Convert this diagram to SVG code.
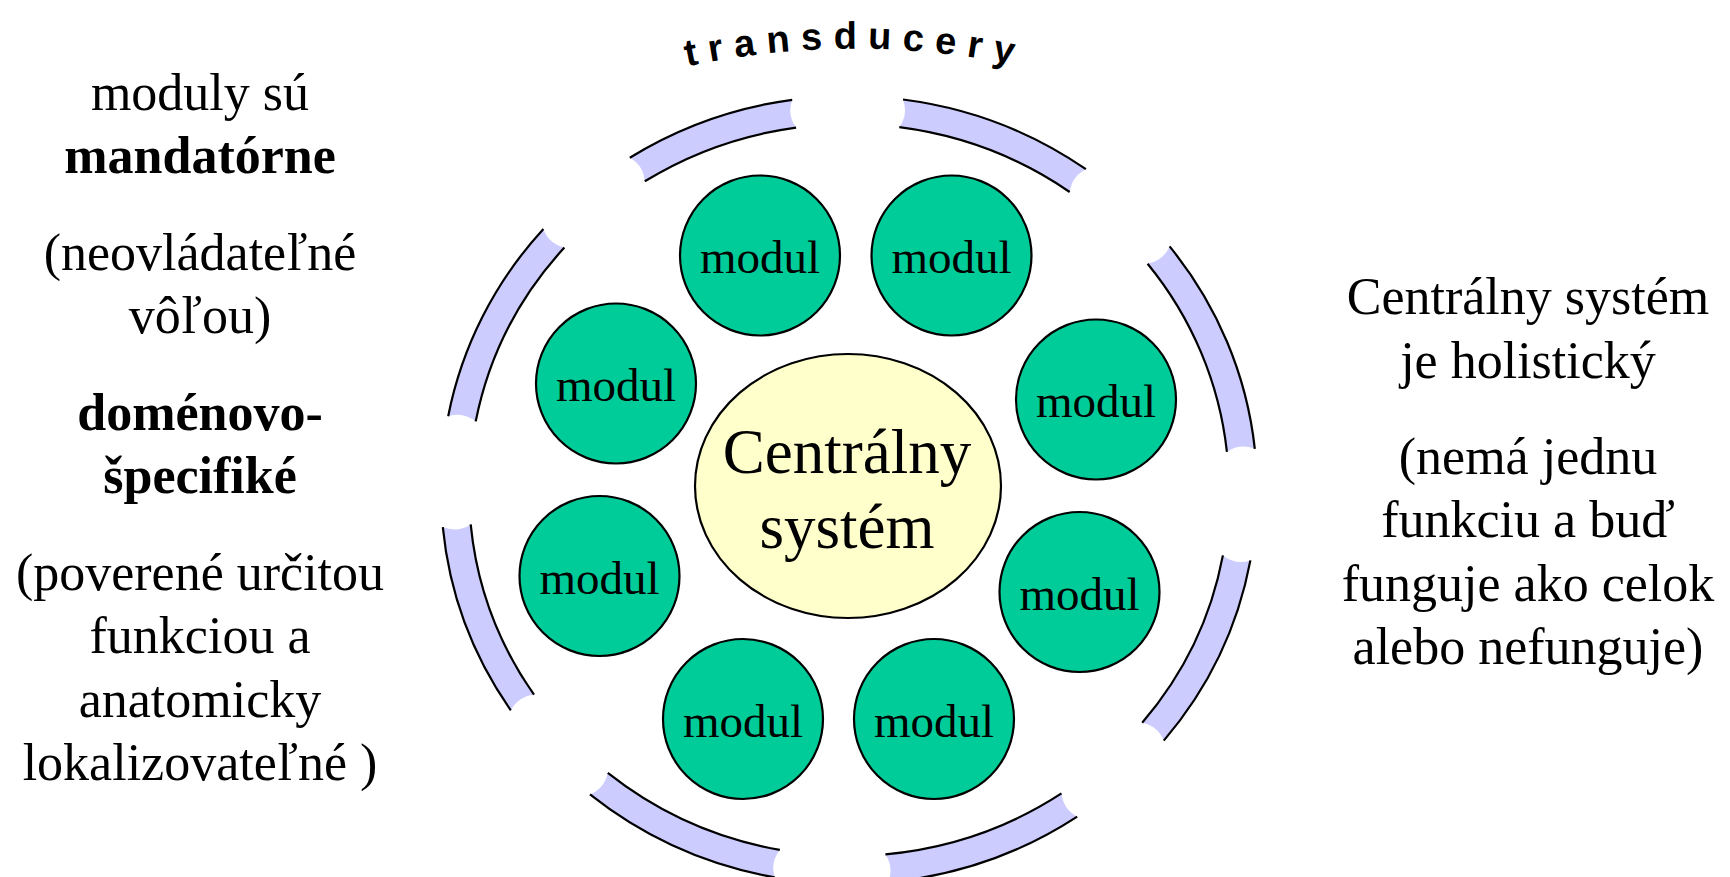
<svg xmlns="http://www.w3.org/2000/svg" width="1730" height="877" viewBox="0 0 1730 877">
<style>
.seg{fill:#CCCCFF;stroke:none}
.edge{fill:none;stroke:#000;stroke-width:2.2}
.mod{fill:#00CC99;stroke:#000;stroke-width:2.2}
.mt{font-family:"Liberation Serif","Times New Roman",serif;font-size:47px;text-anchor:middle;fill:#000}
.side{font-family:"Liberation Serif","Times New Roman",serif;font-size:52px;text-anchor:middle;fill:#000}
.b{font-weight:bold}
</style>
<defs>
<path id="arcText" d="M 600 90.4 A 800 800 0 0 1 1110 90.4" fill="none"/>
</defs>
<rect width="1730" height="877" fill="#fff"/>
<g id="ring">
<path class="seg" d="M629.8 157.7 A408 394 0 0 1 792.2 99.8 A30 30 0 0 0 796.1 127.6 A380 366 0 0 0 644.8 181.3 A30 30 0 0 0 629.8 157.7 Z"/>
<path class="edge" d="M629.8 157.7 A408 394 0 0 1 792.2 99.8 M644.8 181.3 A380 366 0 0 1 796.1 127.6"/>
<path class="seg" d="M903 99.5 A408 394 0 0 1 1085.9 169.2 A30 30 0 0 0 1069.7 192 A380 366 0 0 0 899.3 127.2 A30 30 0 0 0 903 99.5 Z"/>
<path class="edge" d="M903 99.5 A408 394 0 0 1 1085.9 169.2 M899.3 127.2 A380 366 0 0 1 1069.7 192"/>
<path class="seg" d="M1169.6 246.4 A408 394 0 0 1 1254.8 448.8 A30 30 0 0 0 1226.9 451.8 A380 366 0 0 0 1147.6 263.7 A30 30 0 0 0 1169.6 246.4 Z"/>
<path class="edge" d="M1169.6 246.4 A408 394 0 0 1 1254.8 448.8 M1147.6 263.7 A380 366 0 0 1 1226.9 451.8"/>
<path class="seg" d="M1250.4 560.4 A408 394 0 0 1 1163.8 740.6 A30 30 0 0 0 1142.2 722.8 A380 366 0 0 0 1222.9 555.4 A30 30 0 0 0 1250.4 560.4 Z"/>
<path class="edge" d="M1250.4 560.4 A408 394 0 0 1 1163.8 740.6 M1222.9 555.4 A380 366 0 0 1 1142.2 722.8"/>
<path class="seg" d="M1077.2 816.6 A408 394 0 0 1 888.1 882.2 A30 30 0 0 0 885.4 854.3 A380 366 0 0 0 1061.5 793.4 A30 30 0 0 0 1077.2 816.6 Z"/>
<path class="edge" d="M1077.2 816.6 A408 394 0 0 1 888.1 882.2 M1061.5 793.4 A380 366 0 0 1 885.4 854.3"/>
<path class="seg" d="M774.7 877.4 A408 394 0 0 1 590 794.4 A30 30 0 0 0 607.8 772.8 A380 366 0 0 0 779.8 849.9 A30 30 0 0 0 774.7 877.4 Z"/>
<path class="edge" d="M774.7 877.4 A408 394 0 0 1 590 794.4 M779.8 849.9 A380 366 0 0 1 607.8 772.8"/>
<path class="seg" d="M510.8 710.3 A408 394 0 0 1 442.8 527.1 A30 30 0 0 0 470.7 524.4 A380 366 0 0 0 534 694.7 A30 30 0 0 0 510.8 710.3 Z"/>
<path class="edge" d="M510.8 710.3 A408 394 0 0 1 442.8 527.1 M534 694.7 A380 366 0 0 1 470.7 524.4"/>
<path class="seg" d="M448.2 416.2 A408 394 0 0 1 543.4 228.9 A30 30 0 0 0 564.4 247.5 A380 366 0 0 0 475.7 421.4 A30 30 0 0 0 448.2 416.2 Z"/>
<path class="edge" d="M448.2 416.2 A408 394 0 0 1 543.4 228.9 M475.7 421.4 A380 366 0 0 1 564.4 247.5"/>
</g>
<g id="label-transducery">
<text font-family="Liberation Sans, Arial, sans-serif" font-size="38" font-weight="bold" letter-spacing="11" fill="#000"><textPath href="#arcText" startOffset="50%" text-anchor="middle">transducery</textPath></text>
</g>
<g id="central">
<ellipse cx="848" cy="486" rx="153" ry="132" fill="#FFFFCC" stroke="#000" stroke-width="2.2"/>
<text x="847" y="473" font-family="Liberation Serif, Times New Roman, serif" font-size="63" text-anchor="middle">Centrálny</text>
<text x="847" y="548" font-family="Liberation Serif, Times New Roman, serif" font-size="63" text-anchor="middle">systém</text>
</g>
<g id="modul1"><circle class="mod" cx="760" cy="255.5" r="80"/><text class="mt" x="760" y="273">modul</text></g>
<g id="modul2"><circle class="mod" cx="951.5" cy="255.5" r="80"/><text class="mt" x="951.5" y="273">modul</text></g>
<g id="modul3"><circle class="mod" cx="616" cy="383.5" r="80"/><text class="mt" x="616" y="401">modul</text></g>
<g id="modul4"><circle class="mod" cx="1096" cy="399.5" r="80"/><text class="mt" x="1096" y="417">modul</text></g>
<g id="modul5"><circle class="mod" cx="599.5" cy="576" r="80"/><text class="mt" x="599.5" y="593.5">modul</text></g>
<g id="modul6"><circle class="mod" cx="1079.5" cy="592" r="80"/><text class="mt" x="1079.5" y="609.5">modul</text></g>
<g id="modul7"><circle class="mod" cx="743" cy="719" r="80"/><text class="mt" x="743" y="736.5">modul</text></g>
<g id="modul8"><circle class="mod" cx="934" cy="719" r="80"/><text class="mt" x="934" y="736.5">modul</text></g>
<g id="left-text">
<text class="side" x="200" y="110">moduly sú</text>
<text class="side b" x="200" y="173">mandatórne</text>
<text class="side" x="200" y="270">(neovládateľné</text>
<text class="side" x="200" y="333">vôľou)</text>
<text class="side b" x="200" y="430">doménovo-</text>
<text class="side b" x="200" y="493">špecifiké</text>
<text class="side" x="200" y="590">(poverené určitou</text>
<text class="side" x="200" y="653">funkciou a</text>
<text class="side" x="200" y="717">anatomicky</text>
<text class="side" x="200" y="780">lokalizovateľné )</text>
</g>
<g id="right-text">
<text class="side" x="1528" y="314">Centrálny systém</text>
<text class="side" x="1528" y="378">je holistický</text>
<text class="side" x="1528" y="474">(nemá jednu</text>
<text class="side" x="1528" y="537">funkciu a buď</text>
<text class="side" x="1528" y="601">funguje ako celok</text>
<text class="side" x="1528" y="664">alebo nefunguje)</text>
</g>
<g id="connectors"></g>
</svg>
